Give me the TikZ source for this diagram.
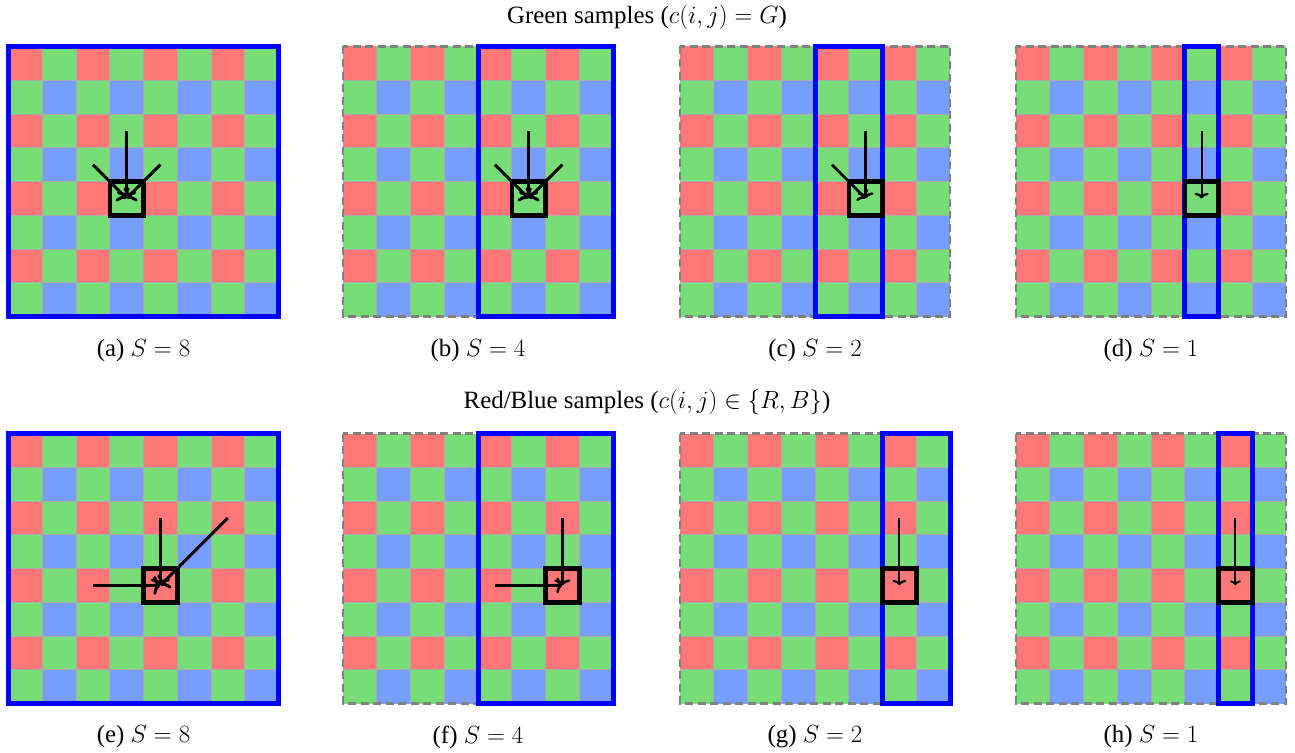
\documentclass[tikz,border=0pt]{standalone}
\usepackage{fontspec}
\setmainfont{Liberation Serif}
\usetikzlibrary{arrows.meta}
\definecolor{cR}{RGB}{255,119,119}
\definecolor{cG}{RGB}{119,221,119}
\definecolor{cB}{RGB}{119,158,255}
\definecolor{gridc}{RGB}{172,172,172}
\definecolor{dashc}{RGB}{128,128,128}
\definecolor{frameblue}{RGB}{0,0,255}
\def\cs{33.75}
% draw a Bayer 8x8 mosaic in the current scope, with dashed outline
\newcommand\bayermosaic{%
  \foreach \r in {0,...,7}{%
    \foreach \c in {0,...,7}{%
      \pgfmathtruncatemacro\k{mod(\r,2)+mod(\c,2)}%
      \ifcase\k \def\cc{cR}\or\def\cc{cG}\or\def\cc{cB}\fi
      \fill[\cc] ({\c*\cs},{\r*\cs}) rectangle ({(\c+1)*\cs},{(\r+1)*\cs});
    }%
  }%
  \foreach \i in {1,...,7}{%
    \draw[gridln] ({\i*\cs},0) -- ({\i*\cs},270);
    \draw[gridln] (0,{\i*\cs}) -- (270,{\i*\cs});
  }%
  \draw[dashframe] (0,0) rectangle (270,270);
}
% named cell centre
\newcommand\cellpt[3]{\coordinate (#1) at ({(#3+0.5)*\cs},{(#2+0.5)*\cs});}
\tikzset{
  gridln/.style={draw=gridc, line width=0.9pt},
  dashframe/.style={draw=dashc, line width=2.4pt, dash pattern=on 8pt off 4.5pt},
  blueframe/.style={draw=frameblue, line width=5pt},
  tbox/.style={draw=black, line width=4.5pt, minimum size=33.75pt, inner sep=0pt, fill=none},
  bigarr/.style={draw=black, line width=3pt, -{To[length=7pt,width=19pt]}},
  midarr/.style={draw=black, line width=2.5pt, -{To[length=6pt,width=16pt]}},
  smallarr/.style={draw=black, line width=2.2pt, -{To[length=5.5pt,width=14pt]}},
  tinyarr/.style={draw=black, line width=1.8pt, -{To[length=5pt,width=11pt]}},
  lbl/.style={font=\rmfamily\fontsize{24.88}{30}\selectfont, inner sep=0pt},
}
\begin{document}
\begin{tikzpicture}[x=1pt,y=-1pt]
\useasboundingbox (0,0) rectangle (1295,752);
\fill[white] (0,0) rectangle (1295,752);

\node[lbl] (title1) at (647,17) {Green samples ($c(i,j)=G$)};
\node[lbl] (title2) at (647,402) {Red/Blue samples ($c(i,j)\in\{R,B\}$)};

% ---------- (a)
\begin{scope}[shift={(8.5,46.5)}]
  \bayermosaic
  \cellpt{a-t}{4}{3}\cellpt{a-n1}{2}{3}\cellpt{a-n2}{3}{2}\cellpt{a-n3}{3}{4}
  \draw[blueframe] (0,0) rectangle (270,270);
  \draw[bigarr] (a-n1) -- (a-t);
  \draw[bigarr] (a-n2) -- (a-t);
  \draw[bigarr] (a-n3) -- (a-t);
  \node[tbox] (a-box) at (a-t) {};
\end{scope}
\node[lbl] (cap-a) at (143.5,351) {(a) $S=8$};

% ---------- (b)
\begin{scope}[shift={(343,46.5)}]
  \bayermosaic
  \cellpt{b-t}{4}{5}\cellpt{b-n1}{2}{5}\cellpt{b-n2}{3}{4}\cellpt{b-n3}{3}{6}
  \draw[blueframe] (135,0) rectangle (270,270);
  \draw[bigarr] (b-n1) -- (b-t);
  \draw[bigarr] (b-n2) -- (b-t);
  \draw[bigarr] (b-n3) -- (b-t);
  \node[tbox] (b-box) at (b-t) {};
\end{scope}
\node[lbl] (cap-b) at (478,351) {(b) $S=4$};

% ---------- (c)
\begin{scope}[shift={(680,46.5)}]
  \bayermosaic
  \cellpt{c-t}{4}{5}\cellpt{c-n1}{2}{5}\cellpt{c-n2}{3}{4}
  \draw[blueframe] (135,0) rectangle (202.5,270);
  \draw[midarr] (c-n1) -- (c-t);
  \draw[midarr] (c-n2) -- (c-t);
  \node[tbox] (c-box) at (c-t) {};
\end{scope}
\node[lbl] (cap-c) at (815,351) {(c) $S=2$};

% ---------- (d)
\begin{scope}[shift={(1016,46.5)}]
  \bayermosaic
  \cellpt{d-t}{4}{5}\cellpt{d-n1}{2}{5}
  \draw[blueframe] (168.75,0) rectangle (202.5,270);
  \draw[smallarr] (d-n1) -- (d-t);
  \node[tbox] (d-box) at (d-t) {};
\end{scope}
\node[lbl] (cap-d) at (1151,351) {(d) $S=1$};

% ---------- (e)
\begin{scope}[shift={(8.5,433.5)}]
  \bayermosaic
  \cellpt{e-t}{4}{4}\cellpt{e-n1}{2}{4}\cellpt{e-n2}{4}{2}\cellpt{e-n3}{2}{6}
  \draw[blueframe] (0,0) rectangle (270,270);
  \draw[bigarr] (e-n1) -- (e-t);
  \draw[bigarr] (e-n2) -- (e-t);
  \draw[bigarr] (e-n3) -- (e-t);
  \node[tbox] (e-box) at (e-t) {};
\end{scope}
\node[lbl] (cap-e) at (143.5,737) {(e) $S=8$};

% ---------- (f)
\begin{scope}[shift={(343,433.5)}]
  \bayermosaic
  \cellpt{f-t}{4}{6}\cellpt{f-n1}{2}{6}\cellpt{f-n2}{4}{4}
  \draw[blueframe] (135,0) rectangle (270,270);
  \draw[midarr] (f-n1) -- (f-t);
  \draw[midarr] (f-n2) -- (f-t);
  \node[tbox] (f-box) at (f-t) {};
\end{scope}
\node[lbl] (cap-f) at (478,737) {(f) $S=4$};

% ---------- (g)
\begin{scope}[shift={(680,433.5)}]
  \bayermosaic
  \cellpt{g-t}{4}{6}\cellpt{g-n1}{2}{6}
  \draw[blueframe] (202.5,0) rectangle (270,270);
  \draw[smallarr] (g-n1) -- (g-t);
  \node[tbox] (g-box) at (g-t) {};
\end{scope}
\node[lbl] (cap-g) at (815,737) {(g) $S=2$};

% ---------- (h)
\begin{scope}[shift={(1016,433.5)}]
  \bayermosaic
  \cellpt{h-t}{4}{6}\cellpt{h-n1}{2}{6}
  \draw[blueframe] (202.5,0) rectangle (236.25,270);
  \draw[tinyarr] (h-n1) -- (h-t);
  \node[tbox] (h-box) at (h-t) {};
\end{scope}
\node[lbl] (cap-h) at (1151,737) {(h) $S=1$};
\end{tikzpicture}
\end{document}
